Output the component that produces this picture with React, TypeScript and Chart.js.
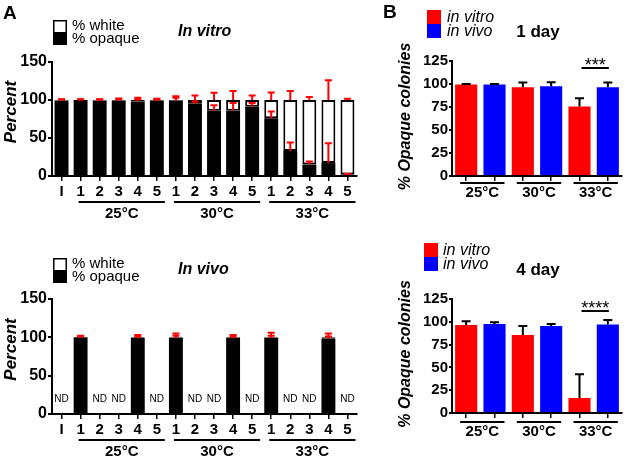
import React, { useEffect, useRef } from 'react';
import { Chart, registerables } from 'chart.js';
Chart.register(...registerables);

const FONT = "'Liberation Sans', Arial, Helvetica, sans-serif";

// ---------- Panel A data ----------
const passageLabels = ['I', '1', '2', '3', '4', '5', '1', '2', '3', '4', '5', '1', '2', '3', '4', '5'];
const temps = ['25°C', '30°C', '33°C'];

const vitroOpaque = [99.5, 100, 99.5, 99, 98, 99, 99, 95, 86, 86, 91, 76, 33, 15, 17, 2];
const vitroWhite = [0.5, 0, 0.5, 1, 2, 1, 1, 5, 14, 14, 9, 24, 67, 85, 83, 98];
const vitroOpaqueErr = [1, 1, 1, 2, 3, 1.5, 4, 3, 7, 10, 5, 9, 11, 4, 26, 1];
const vitroWhiteErr = [1, 0.5, 1, 2, 3, 1.5, 5, 6, 9.5, 12, 6, 10, 12, 4, 26, 1.5];

const vivoOpaque = [null, 100, null, null, 99, null, 99, null, null, 99, null, 99, null, null, 98, null];
const vivoWhite = [null, 0, null, null, 1, null, 1, null, null, 1, null, 1, null, null, 2, null];
const vivoOpaqueErr = [null, 1, null, null, 2, null, 3, null, null, 2, null, 3, null, null, 3, null];
const vivoWhiteErr = [null, 2, null, null, 3, null, 5, null, null, 3, null, 6, null, null, 5, null];

// ---------- Panel B data ----------
const day1Vitro = [99.5, 96.5, 75.5];
const day1VitroErr = [0.5, 5, 9];
const day1Vivo = [99.5, 97.5, 96.5];
const day1VivoErr = [0.5, 4.5, 5];
const day1Sig = '***';

const day4Vitro = [96.5, 85.5, 16.5];
const day4VitroErr = [4, 10, 26];
const day4Vivo = [97.5, 95.5, 97];
const day4VivoErr = [2, 2, 5];
const day4Sig = '****';

type Num = number | null;

function errBar(ctx: CanvasRenderingContext2D, x: number, y0: number, y1: number, half: number) {
  ctx.beginPath();
  ctx.moveTo(x, y0);
  ctx.lineTo(x, y1);
  ctx.moveTo(x - half, y1);
  ctx.lineTo(x + half, y1);
  ctx.stroke();
}

function rotatedText(ctx: CanvasRenderingContext2D, text: string, x: number, y: number, font: string) {
  ctx.save();
  ctx.translate(x, y);
  ctx.rotate(-Math.PI / 2);
  ctx.font = font;
  ctx.textAlign = 'center';
  ctx.textBaseline = 'middle';
  ctx.fillText(text, 0, 0);
  ctx.restore();
}

function panelAConfig(p: {
  opaque: Num[]; white: Num[]; opaqueErr: Num[]; whiteErr: Num[];
  title: string; top: number; bottom: number; H: number; letter: boolean; legendY: number; titleY: number;
}) {
  const plugin = {
    id: 'decorA',
    afterDatasetsDraw(chart: any) {
      const ctx = chart.ctx as CanvasRenderingContext2D;
      const ys = chart.scales.y;
      const meta = chart.getDatasetMeta(0);
      ctx.save();
      ctx.strokeStyle = '#ff0000';
      ctx.lineWidth = 2;
      p.opaque.forEach((op, i) => {
        if (op == null) return;
        const x = meta.data[i].x;
        const wh = (p.white[i] ?? 0) as number;
        const oe = (p.opaqueErr[i] ?? 0) as number;
        const we = (p.whiteErr[i] ?? 0) as number;
        errBar(ctx, x, ys.getPixelForValue(op), ys.getPixelForValue(op + oe), 3.5);
        errBar(ctx, x, ys.getPixelForValue(op + wh), ys.getPixelForValue(op + wh + we), 3.5);
      });
      ctx.restore();
    },
    afterDraw(chart: any) {
      const ctx = chart.ctx as CanvasRenderingContext2D;
      const xs = chart.scales.x;
      const ca = chart.chartArea;
      ctx.save();
      ctx.fillStyle = '#000';
      ctx.strokeStyle = '#000';
      if (p.letter) {
        ctx.font = `bold 19px ${FONT}`;
        ctx.textBaseline = 'middle';
        ctx.textAlign = 'left';
        ctx.fillText('A', 3, 14);
      }
      const ly = p.legendY;
      ctx.fillStyle = '#fff';
      ctx.fillRect(54, ly, 12, 12);
      ctx.fillStyle = '#000';
      ctx.fillRect(53, ly + 12, 14, 13);
      ctx.lineWidth = 1.5;
      ctx.strokeRect(53.75, ly + 0.75, 12.5, 23.5);
      ctx.font = `15px ${FONT}`;
      ctx.textAlign = 'left';
      ctx.textBaseline = 'middle';
      ctx.fillText('% white', 72, ly + 6);
      ctx.fillText('% opaque', 72, ly + 19);
      ctx.font = `italic bold 16px ${FONT}`;
      ctx.fillText(p.title, 178, p.titleY);
      rotatedText(ctx, 'Percent', 11, (ca.top + ca.bottom) / 2 - 7, `italic bold 17px ${FONT}`);
      ctx.lineWidth = 2;
      temps.forEach((t, g) => {
        const x1 = xs.getPixelForValue(1 + g * 5) - 2;
        const x2 = xs.getPixelForValue(5 + g * 5) + 8;
        const y = Math.round(ca.bottom + 25.5);
        ctx.beginPath();
        ctx.moveTo(x1, y);
        ctx.lineTo(x2, y);
        ctx.stroke();
        ctx.font = `bold 15px ${FONT}`;
        ctx.textAlign = 'center';
        ctx.fillText(t, (x1 + x2) / 2, ca.bottom + 38);
      });
      ctx.font = `10px ${FONT}`;
      ctx.textAlign = 'center';
      p.opaque.forEach((op, i) => {
        if (op != null) return;
        ctx.fillText('ND', xs.getPixelForValue(i), ca.bottom - 15);
      });
      ctx.restore();
    },
  };

  return {
    type: 'bar',
    data: {
      labels: passageLabels,
      datasets: [
        { label: '% opaque', data: p.opaque, backgroundColor: '#000', borderColor: '#000', borderWidth: 0 },
        { label: '% white', data: p.white, backgroundColor: '#fff', borderColor: '#000', borderWidth: 2, borderSkipped: false },
      ],
    },
    options: {
      responsive: false,
      animation: false,
      devicePixelRatio: 1,
      layout: { padding: { left: 0, right: 380 - 357, top: p.top, bottom: 0 } },
      plugins: { legend: { display: false }, tooltip: { enabled: false } },
      datasets: { bar: { barPercentage: 0.73, categoryPercentage: 1 } },
      scales: {
        x: {
          stacked: true,
          grid: { display: true, drawOnChartArea: false, drawTicks: true, tickLength: 5, offset: false, color: '#000', lineWidth: 1.5 },
          border: { display: true, color: '#000', width: 2 },
          ticks: { color: '#000', font: { family: FONT, size: 15, weight: 'bold' }, padding: 2, autoSkip: false, maxRotation: 0 },
          afterFit: (s: any) => { s.height = p.H - p.bottom; },
        },
        y: {
          stacked: true,
          min: 0,
          max: 150,
          ticks: { stepSize: 50, color: '#000', font: { family: FONT, size: 16, weight: 'bold' }, padding: 1 },
          grid: { drawOnChartArea: false, drawTicks: true, tickLength: 4, color: '#000', lineWidth: 2 },
          border: { display: true, color: '#000', width: 2 },
          afterFit: (s: any) => { s.width = 52; },
        },
      },
    },
    plugins: [plugin],
  };
}

function panelBConfig(p: {
  vitro: number[]; vitroErr: number[]; vivo: number[]; vivoErr: number[]; sig: string; sigY: number;
  dayTitle: string; titleY: number; top: number; bottom: number; H: number; letter: boolean;
  legendX: number; legendY: number; textX: number; lineOff: number; labelOff: number;
}) {
  const labels: string[] = [];
  const vitroData: Num[] = [];
  const vivoData: Num[] = [];
  temps.forEach((t, i) => {
    labels.push(`${t} in vitro`, `${t} in vivo`);
    vitroData.push(p.vitro[i], null);
    vivoData.push(null, p.vivo[i]);
  });
  const plugin = {
    id: 'decorB',
    afterDatasetsDraw(chart: any) {
      const ctx = chart.ctx as CanvasRenderingContext2D;
      const ys = chart.scales.y;
      const m0 = chart.getDatasetMeta(0);
      const m1 = chart.getDatasetMeta(1);
      ctx.save();
      ctx.strokeStyle = '#000';
      ctx.lineWidth = 2;
      temps.forEach((_, i) => {
        const a = m0.data[i * 2];
        errBar(ctx, a.x, ys.getPixelForValue(p.vitro[i]), ys.getPixelForValue(p.vitro[i] + p.vitroErr[i]), 4.5);
        const b = m1.data[i * 2 + 1];
        errBar(ctx, b.x, ys.getPixelForValue(p.vivo[i]), ys.getPixelForValue(p.vivo[i] + p.vivoErr[i]), 4.5);
      });
      ctx.restore();
    },
    afterDraw(chart: any) {
      const ctx = chart.ctx as CanvasRenderingContext2D;
      const xs = chart.scales.x;
      const ys = chart.scales.y;
      const ca = chart.chartArea;
      const m0 = chart.getDatasetMeta(0);
      const m1 = chart.getDatasetMeta(1);
      ctx.save();
      ctx.fillStyle = '#000';
      ctx.strokeStyle = '#000';
      if (p.letter) {
        ctx.font = `bold 19px ${FONT}`;
        ctx.textBaseline = 'middle';
        ctx.textAlign = 'left';
        ctx.fillText('B', 3, 13);
      }
      ctx.fillStyle = '#ff0000';
      ctx.fillRect(p.legendX, p.legendY, 14, 14);
      ctx.fillStyle = '#0000ff';
      ctx.fillRect(p.legendX, p.legendY + 14, 14, 14);
      ctx.fillStyle = '#000';
      ctx.font = `italic 16px ${FONT}`;
      ctx.textAlign = 'left';
      ctx.textBaseline = 'middle';
      ctx.fillText('in vitro', p.textX, p.legendY + 8);
      ctx.fillText('in vivo', p.textX, p.legendY + 22);
      ctx.font = `bold 17px ${FONT}`;
      ctx.textAlign = 'center';
      ctx.fillText(p.dayTitle, 158, p.titleY);
      rotatedText(ctx, '% Opaque colonies', 26, (ca.top + ca.bottom) / 2 - 2, `italic bold 16px ${FONT}`);
      ctx.lineWidth = 2;
      temps.forEach((t, g) => {
        const x1 = xs.getPixelForValue(g * 2) - 6;
        const x2 = xs.getPixelForValue(g * 2 + 1) + 10;
        const y = Math.round(ca.bottom + p.lineOff);
        ctx.beginPath();
        ctx.moveTo(x1, y);
        ctx.lineTo(x2, y);
        ctx.stroke();
        ctx.font = `bold 15px ${FONT}`;
        ctx.textAlign = 'center';
        ctx.textBaseline = 'middle';
        ctx.fillText(t, (x1 + x2) / 2, ca.bottom + p.labelOff);
      });
      const sx1 = m0.data[4].x + 2;
      const sx2 = m1.data[5].x + 1;
      const sy = Math.round(ys.getPixelForValue(p.sigY));
      ctx.beginPath();
      ctx.moveTo(sx1, sy);
      ctx.lineTo(sx2, sy);
      ctx.stroke();
      ctx.font = `18px ${FONT}`;
      ctx.textAlign = 'center';
      ctx.textBaseline = 'alphabetic';
      ctx.fillText(p.sig, (sx1 + sx2) / 2, sy + 3);
      ctx.restore();
    },
  };
  return {
    type: 'bar',
    data: {
      labels,
      datasets: [
        { label: 'in vitro', data: vitroData, backgroundColor: '#ff0000', borderWidth: 0, skipNull: true },
        { label: 'in vivo', data: vivoData, backgroundColor: '#0000ff', borderWidth: 0, skipNull: true },
      ],
    },
    options: {
      responsive: false,
      animation: false,
      devicePixelRatio: 1,
      layout: { padding: { left: 0, right: 250 - 242, top: p.top, bottom: 0 } },
      plugins: { legend: { display: false }, tooltip: { enabled: false } },
      datasets: { bar: { barPercentage: 0.78, categoryPercentage: 1 } },
      scales: {
        x: {
          grid: { display: true, drawOnChartArea: false, drawTicks: true, tickLength: 5, offset: false, color: '#000', lineWidth: 1.5 },
          border: { display: true, color: '#000', width: 2 },
          ticks: { display: false },
          afterFit: (s: any) => { s.height = p.H - p.bottom; },
        },
        y: {
          min: 0,
          max: 125,
          ticks: { stepSize: 25, color: '#000', font: { family: FONT, size: 15, weight: 'bold' }, padding: 1 },
          grid: { drawOnChartArea: false, drawTicks: true, tickLength: 3, color: '#000', lineWidth: 2 },
          border: { display: true, color: '#000', width: 2 },
          afterFit: (s: any) => { s.width = 72; },
        },
      },
    },
    plugins: [plugin],
  };
}

function ChartBox({ left, top, width, height, config }: { left: number; top: number; width: number; height: number; config: any }) {
  const ref = useRef<HTMLCanvasElement>(null);
  useEffect(() => {
    const chart = new Chart(ref.current as HTMLCanvasElement, config);
    return () => chart.destroy();
  }, []);
  return (
    <canvas
      ref={ref}
      width={width}
      height={height}
      style={{ position: 'absolute', left, top, width, height, display: 'block' }}
    />
  );
}

export default function App() {
  const aTop = panelAConfig({
    opaque: vitroOpaque, white: vitroWhite, opaqueErr: vitroOpaqueErr, whiteErr: vitroWhiteErr,
    title: 'In vitro', top: 62, bottom: 176, H: 230, letter: true, legendY: 20, titleY: 32,
  });
  const aBot = panelAConfig({
    opaque: vivoOpaque, white: vivoWhite, opaqueErr: vivoOpaqueErr, whiteErr: vivoWhiteErr,
    title: 'In vivo', top: 69, bottom: 184, H: 230, letter: false, legendY: 28, titleY: 40,
  });
  const bTop = panelBConfig({
    vitro: day1Vitro, vitroErr: day1VitroErr, vivo: day1Vivo, vivoErr: day1VivoErr, sig: day1Sig, sigY: 117,
    dayTitle: '1 day', titleY: 32, top: 61, bottom: 176, H: 230, letter: true,
    legendX: 47, legendY: 10, textX: 67, lineOff: 7, labelOff: 17,
  });
  const bBot = panelBConfig({
    vitro: day4Vitro, vitroErr: day4VitroErr, vivo: day4Vivo, vivoErr: day4VivoErr, sig: day4Sig, sigY: 112,
    dayTitle: '4 day', titleY: 40, top: 69, bottom: 183, H: 230, letter: false,
    legendX: 44, legendY: 13, textX: 63, lineOff: 9, labelOff: 19,
  });
  return (
    <div style={{ position: 'absolute', left: 0, top: 0, width: 630, height: 460, background: '#fff', overflow: 'hidden' }}>
      <ChartBox left={0} top={0} width={380} height={230} config={aTop} />
      <ChartBox left={0} top={230} width={380} height={230} config={aBot} />
      <ChartBox left={380} top={0} width={250} height={230} config={bTop} />
      <ChartBox left={380} top={230} width={250} height={230} config={bBot} />
    </div>
  );
}
